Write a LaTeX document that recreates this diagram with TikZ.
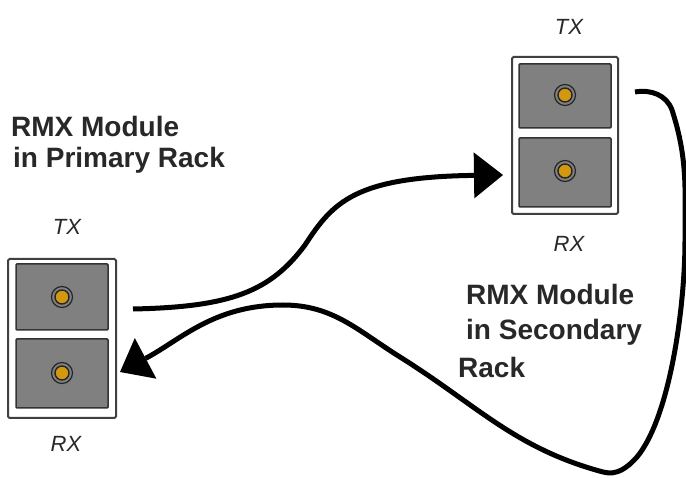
\documentclass[tikz,border=0pt]{standalone}
\usepackage{fontspec}
\newfontfamily\lsans{Liberation Sans}
\usetikzlibrary{arrows.meta}
\definecolor{portorange}{RGB}{212,152,14}
\definecolor{panelgray}{RGB}{128,128,128}
\definecolor{txtgray}{RGB}{40,40,40}
\tikzset{
  modbox/.style={draw=black!75, line width=2pt, fill=white, rounded corners=1.5pt, inner sep=0pt},
  panel/.style={draw=black!80, line width=1.5pt, fill=panelgray, rounded corners=1pt, inner sep=0pt, minimum width=92pt},
  port/.style={circle, draw=black!85, line width=1.2pt, fill=black!50, minimum size=21pt, inner sep=0pt,
    path picture={\fill[portorange] (path picture bounding box.center) circle (6.5pt);
                  \draw[black!85, line width=1.4pt] (path picture bounding box.center) circle (7pt);}},
  lbl/.style={font=\lsans\bfseries\fontsize{28}{32}\selectfont, text=txtgray, inner sep=0pt, anchor=base west},
  io/.style={font=\lsans\itshape\fontsize{22}{26}\selectfont, text=txtgray, inner sep=0pt, anchor=base},
  arr/.style={line width=5pt, draw=black, -{Triangle[length=29pt,width=46pt,line width=0pt]}}
}
\begin{document}
\begin{tikzpicture}[x=1pt,y=1pt]
\fill[white] (0,0) rectangle (686,477);
\useasboundingbox (0,0) rectangle (686,477);

% left module (primary rack)
\node[modbox, minimum width=108pt, minimum height=159pt] (lmod) at (62,138.5) {};
\node[panel, minimum height=66pt] (ltxpanel) at (62,180) {};
\node[panel, minimum height=69pt] (lrxpanel) at (62,103.5) {};
\node[port] (ltxport) at (62,180) {};
\node[port] (lrxport) at (62,104) {};
\node[io] (ltxlbl) at (67,242) {TX};
\node[io] (lrxlbl) at (66,25) {RX};

% right module (secondary rack)
\node[modbox, minimum width=106pt, minimum height=157pt] (rmod) at (565,341.5) {};
\node[panel, minimum height=64pt] (rtxpanel) at (565,381) {};
\node[panel, minimum height=69pt] (rrxpanel) at (565,304.5) {};
\node[port] (rtxport) at (565,382) {};
\node[port] (rrxport) at (565,306) {};
\node[io] (rtxlbl) at (569,442) {TX};
\node[io] (rrxlbl) at (569,225) {RX};

% labels
\node[lbl] (p1) at (11,340) {RMX Module};
\node[lbl] (p2) at (13,309) {in Primary Rack};
\node[lbl] (s1) at (466,172) {RMX Module};
\node[lbl] (s2) at (466,137) {in Secondary};
\node[lbl] (s3) at (458,99) {Rack};

% connector: primary TX -> secondary RX
\coordinate (a1s) at (133,168);
\coordinate (a1m) at (305,232);
\coordinate (a1e) at (503,302);
\draw[arr] (a1s) .. controls (230,170) and (270,185) .. (a1m)
                 .. controls (333,275) and (355,300) .. (a1e);

% connector: secondary TX -> primary RX
\coordinate (a2s) at (635,385);
\coordinate (a2a) at (672,367);
\coordinate (a2b) at (685,237);
\coordinate (a2c) at (637,20);
\coordinate (a2d) at (603,5);
\coordinate (a2f) at (400,120);
\coordinate (a2g) at (283,172);
\coordinate (a2e) at (120,105);
\draw[arr] (a2s) to[out=10,in=110] (a2a)
                 to[out=-72,in=90] (a2b)
                 .. controls (685,170) and (670,60) .. (a2c)
                 to[out=228,in=-15] (a2d)
                 to[out=165,in=-32] (a2f)
                 to[out=148,in=0] (a2g)
                 to[out=180,in=28] (a2e);
\end{tikzpicture}
\end{document}
